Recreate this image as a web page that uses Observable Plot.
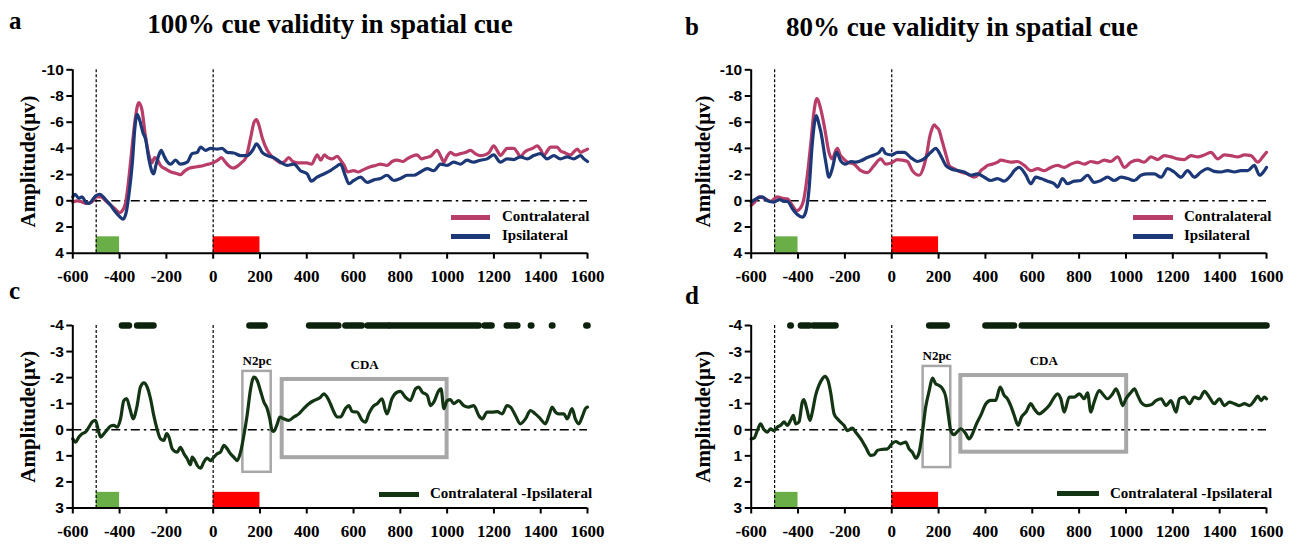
<!DOCTYPE html>
<html><head><meta charset="utf-8">
<script src="https://cdn.jsdelivr.net/npm/d3@7"></script>
<script src="https://cdn.jsdelivr.net/npm/@observablehq/plot@0.6"></script>
<style>
html,body{margin:0;padding:0;background:#fff;}
#root{position:relative;width:1294px;height:548px;overflow:hidden;background:#fff;}
.abs{position:absolute;}
.title{font:bold 27px "Liberation Serif","Times New Roman",serif;text-align:center;white-space:nowrap;line-height:30px;color:#000;}
.letter{font:bold 25px "Liberation Serif","Times New Roman",serif;line-height:28px;color:#000;}
.leg{font:bold 15px "Liberation Serif","Times New Roman",serif;line-height:18px;white-space:nowrap;color:#000;}
.sw{height:5px;}
.p g[aria-label="y-axis tick label"]{font:bold 15.5px "Liberation Sans",Arial,sans-serif;}
.p g[aria-label="x-axis tick label"]{font:bold 17px "Liberation Serif","Times New Roman",serif;}
</style></head><body><div id="root"></div><script>
// ---------- data ----------
const xDomain = [-600, 1600];
const xTicks = [-600,-400,-200,0,200,400,600,800,1000,1200,1400,1600];
const yDomainTop = [4, -10];
const yTicksTop = [-10,-8,-6,-4,-2,0,2,4];
const yDomainBottom = [3, -4];
const yTicksBottom = [-4,-3,-2,-1,0,1,2,3];
const eventTimes = [-500, 0];
const cueWindow = [-500, -400];
const targetWindow = [0, 200];
const stimBarTop = [2.75, 4];
const stimBarBottom = [2.4, 3];
const sigLevel = -4;
const yLabel = "Amplitude(μv)";
const titles = ["100% cue validity in spatial cue", "80% cue validity in spatial cue"];
const seriesNames = ["Contralateral", "Ipsilateral", "Contralateral -Ipsilateral"];

// panel a (100%) contralateral / ipsilateral
const aContra = [[-600,0.1],[-580,0.0],[-560,0.1],[-540,0.2],[-520,0.1],[-500,-0.3],[-480,-0.3],[-460,0.0],[-440,0.3],[-420,0.6],[-400,0.9],[-390,0.8],[-375,0.2],[-365,-1.0],[-350,-3.5],[-335,-6.0],[-318,-7.5],[-305,-7.0],[-290,-5.0],[-275,-3.5],[-262,-2.9],[-250,-3.3],[-240,-3.2],[-225,-2.7],[-200,-2.4],[-180,-2.2],[-160,-2.1],[-140,-2.0],[-120,-2.3],[-100,-2.5],[-70,-2.6],[-40,-2.7],[-20,-2.8],[0,-2.9],[20,-3.1],[35,-3.3],[50,-3.0],[65,-2.7],[85,-2.5],[100,-2.6],[120,-2.9],[140,-3.3],[160,-4.8],[175,-6.0],[185,-6.2],[195,-5.8],[210,-4.8],[230,-3.9],[250,-3.4],[270,-3.1],[290,-2.9],[305,-3.0],[323,-3.3],[340,-3.0],[360,-2.9],[380,-2.9],[400,-2.9],[420,-2.8],[445,-3.5],[460,-3.1],[475,-3.5],[490,-3.3],[510,-3.2],[530,-3.4],[545,-3.1],[560,-2.7],[575,-2.2],[600,-2.3],[620,-2.2],[645,-2.4],[672,-2.6],[695,-2.7],[715,-2.8],[743,-2.7],[765,-3.0],[786,-3.1],[810,-3.0],[829,-3.2],[850,-3.4],[872,-3.5],[890,-3.2],[910,-3.3],[929,-3.4],[957,-3.85],[975,-3.3],[986,-2.95],[1000,-3.4],[1014,-3.7],[1035,-3.5],[1057,-3.6],[1080,-3.7],[1100,-3.85],[1120,-3.6],[1142,-3.45],[1160,-3.5],[1180,-3.7],[1199,-4.2],[1215,-3.8],[1228,-3.45],[1245,-3.8],[1256,-4.0],[1285,-4.0],[1300,-3.7],[1313,-3.35],[1330,-3.7],[1342,-3.85],[1365,-4.0],[1385,-4.2],[1400,-3.9],[1413,-3.45],[1428,-3.8],[1442,-4.1],[1470,-4.1],[1485,-3.8],[1499,-3.7],[1527,-3.5],[1545,-3.8],[1556,-3.95],[1570,-3.7],[1583,-3.8],[1600,-3.95]];
const aIpsi = [[-600,-0.3],[-590,-0.5],[-575,-0.2],[-560,-0.3],[-545,0.1],[-530,0.2],[-515,-0.1],[-500,-0.4],[-485,-0.5],[-470,-0.3],[-455,0.0],[-440,0.3],[-420,0.8],[-400,1.2],[-385,1.4],[-372,0.9],[-360,-0.5],[-345,-3.0],[-335,-5.5],[-325,-6.6],[-315,-6.2],[-300,-5.2],[-289,-4.7],[-275,-3.2],[-261,-2.2],[-254,-2.05],[-245,-2.7],[-232,-3.5],[-222,-3.85],[-212,-3.5],[-204,-3.2],[-182,-2.8],[-161,-3.1],[-140,-2.8],[-111,-2.95],[-90,-3.6],[-68,-3.7],[-54,-4.1],[-33,-3.85],[-11,-4.0],[17,-3.95],[38,-4.0],[60,-3.7],[88,-3.65],[117,-3.45],[145,-3.45],[170,-3.9],[185,-4.35],[200,-4.0],[209,-3.7],[231,-3.45],[259,-3.3],[288,-2.95],[316,-2.7],[345,-2.8],[373,-2.3],[402,-2.05],[419,-1.5],[444,-1.8],[473,-2.05],[501,-2.3],[525,-2.6],[544,-2.8],[565,-1.9],[580,-1.3],[601,-1.55],[630,-1.8],[658,-1.4],[687,-1.6],[715,-1.7],[743,-1.95],[772,-1.55],[800,-1.7],[829,-1.95],[857,-1.95],[886,-2.2],[915,-2.45],[943,-2.3],[972,-2.8],[1000,-2.7],[1028,-2.95],[1057,-2.8],[1085,-3.1],[1113,-2.95],[1142,-3.1],[1171,-3.2],[1199,-3.5],[1228,-2.95],[1256,-3.2],[1285,-3.15],[1313,-3.35],[1342,-3.2],[1370,-3.45],[1399,-3.6],[1427,-3.2],[1456,-3.45],[1484,-3.2],[1513,-3.35],[1541,-3.2],[1570,-3.45],[1585,-3.2],[1600,-3.0]];

// panel b (80%) contralateral / ipsilateral
const bContra = [[-600,0.35],[-585,0.1],[-567,-0.3],[-545,-0.2],[-517,0.05],[-489,-0.3],[-470,-0.2],[-446,-0.15],[-424,0.35],[-406,0.75],[-392,0.6],[-375,-0.15],[-360,-2.0],[-345,-4.5],[-332,-6.8],[-320,-7.8],[-303,-7.0],[-286,-5.5],[-268,-3.7],[-254,-3.2],[-240,-3.8],[-232,-4.0],[-220,-3.5],[-211,-3.3],[-189,-2.95],[-161,-2.8],[-132,-2.3],[-104,-2.15],[-75,-2.7],[-47,-3.2],[-26,-2.8],[0,-2.9],[24,-3.15],[45,-3.1],[67,-3.0],[88,-2.3],[117,-1.95],[138,-2.7],[150,-3.6],[160,-4.7],[170,-5.4],[181,-5.8],[192,-5.6],[202,-5.4],[213,-4.7],[224,-4.0],[235,-3.3],[245,-2.7],[266,-2.45],[295,-2.2],[323,-2.05],[352,-1.8],[370,-2.0],[380,-2.3],[395,-2.5],[409,-2.7],[430,-2.8],[452,-2.95],[466,-3.1],[494,-3.0],[508,-2.95],[536,-3.0],[566,-2.7],[594,-2.3],[623,-2.45],[651,-2.3],[679,-2.55],[708,-2.7],[736,-2.55],[765,-2.8],[793,-2.95],[822,-2.8],[850,-3.0],[879,-2.9],[907,-3.1],[936,-3.0],[964,-3.35],[993,-2.55],[1021,-2.95],[1050,-3.1],[1078,-2.95],[1107,-3.35],[1135,-3.15],[1164,-3.45],[1192,-3.35],[1221,-3.2],[1249,-3.15],[1278,-3.45],[1306,-3.35],[1334,-3.5],[1363,-3.7],[1392,-3.2],[1420,-3.5],[1448,-3.45],[1477,-3.35],[1506,-3.5],[1534,-3.45],[1563,-2.95],[1584,-3.35],[1600,-3.7]];
const bIpsi = [[-600,0.1],[-574,-0.2],[-552,-0.3],[-531,0.0],[-503,0.1],[-480,-0.1],[-460,0.05],[-446,0.05],[-424,0.6],[-403,1.05],[-382,1.25],[-368,0.9],[-353,-0.9],[-339,-4.4],[-322,-6.5],[-310,-5.8],[-303,-5.3],[-282,-3.0],[-268,-1.8],[-254,-2.45],[-235,-3.7],[-218,-3.05],[-197,-2.8],[-175,-3.0],[-154,-2.95],[-132,-3.05],[-104,-3.3],[-75,-3.5],[-54,-3.7],[-40,-4.0],[-26,-3.6],[0,-3.5],[24,-3.7],[53,-3.7],[81,-3.3],[110,-3.0],[138,-3.2],[167,-3.7],[188,-4.0],[209,-3.45],[231,-2.7],[252,-2.45],[281,-2.3],[309,-2.2],[338,-1.95],[366,-2.05],[395,-1.8],[423,-1.55],[452,-1.7],[480,-1.5],[509,-1.95],[523,-2.3],[544,-2.55],[573,-1.95],[594,-1.3],[615,-1.8],[637,-1.7],[665,-1.5],[694,-1.3],[708,-1.05],[729,-1.7],[750,-1.3],[779,-1.5],[807,-1.55],[836,-1.95],[864,-1.4],[893,-1.55],[921,-1.8],[950,-1.55],[979,-1.8],[1007,-1.7],[1036,-1.55],[1064,-1.95],[1093,-2.05],[1121,-2.05],[1150,-1.8],[1178,-2.45],[1206,-2.2],[1235,-1.8],[1263,-2.3],[1292,-1.8],[1320,-2.2],[1349,-2.45],[1377,-2.25],[1406,-2.2],[1434,-2.3],[1463,-2.2],[1491,-2.3],[1520,-2.3],[1548,-2.7],[1570,-1.95],[1591,-2.3],[1600,-2.55]];

// panel c (100%) difference wave
const cDiff = [[-600,0.35],[-588,0.47],[-574,0.28],[-560,0.15],[-546,0.09],[-531,-0.1],[-517,-0.3],[-503,-0.36],[-489,0.09],[-481,0.28],[-467,0.15],[-453,0.0],[-439,-0.14],[-425,-0.17],[-410,-0.1],[-396,-0.42],[-382,-1.12],[-370,-1.2],[-356,-0.81],[-342,-0.42],[-325,-0.93],[-311,-1.64],[-296,-1.8],[-282,-1.64],[-268,-1.2],[-254,-0.55],[-239,0.0],[-225,0.35],[-211,0.41],[-199,0.15],[-189,0.28],[-175,0.73],[-154,0.86],[-140,0.67],[-125,0.92],[-111,1.11],[-97,1.34],[-90,1.05],[-75,1.24],[-68,1.37],[-54,1.47],[-40,1.24],[-26,1.09],[-11,1.18],[3,1.05],[17,0.92],[31,0.86],[46,0.6],[60,0.73],[74,0.92],[88,1.05],[103,1.18],[117,0.86],[131,0.22],[145,-0.55],[160,-1.57],[174,-2.02],[188,-1.89],[202,-1.5],[217,-1.06],[231,-0.81],[242,-0.42],[252,0.03],[259,0.06],[274,-0.23],[285,-0.49],[302,-0.42],[323,-0.36],[345,-0.49],[366,-0.61],[387,-0.81],[409,-1.0],[430,-1.12],[459,-1.25],[473,-1.38],[487,-1.25],[501,-1.0],[516,-0.68],[530,-0.49],[544,-0.49],[565,-0.81],[580,-0.93],[594,-0.7],[615,-0.68],[637,-0.36],[651,-0.29],[665,-0.61],[687,-0.93],[701,-1.0],[722,-1.19],[736,-0.74],[743,-0.61],[764,-1.19],[786,-1.44],[800,-1.47],[822,-1.25],[842,-1.12],[865,-1.57],[879,-1.64],[893,-1.45],[915,-1.32],[929,-0.93],[943,-1.06],[964,-1.5],[974,-1.57],[986,-0.81],[1000,-1.12],[1014,-1.16],[1028,-1.0],[1049,-1.12],[1071,-0.93],[1092,-0.87],[1114,-0.93],[1135,-0.55],[1150,-0.42],[1171,-0.68],[1192,-0.68],[1214,-0.7],[1235,-0.61],[1256,-0.93],[1271,-0.87],[1292,-0.55],[1313,-0.23],[1335,-0.42],[1356,-0.74],[1377,-0.61],[1399,-0.42],[1420,-0.23],[1435,-0.55],[1449,-0.87],[1463,-0.68],[1477,-0.61],[1499,-0.61],[1513,-0.42],[1534,-0.81],[1548,-0.42],[1563,-0.23],[1577,-0.49],[1591,-0.81],[1600,-0.87]];
// panel d (80%) difference wave
const dDiff = [[-600,0.35],[-588,0.32],[-574,0.03],[-560,-0.23],[-546,-0.01],[-531,0.09],[-517,-0.04],[-503,0.03],[-489,-0.1],[-474,-0.17],[-460,-0.3],[-446,-0.17],[-432,-0.36],[-420,-0.55],[-410,-0.23],[-396,-0.3],[-382,-1.06],[-375,-1.16],[-363,-0.81],[-349,-0.36],[-339,-0.68],[-325,-1.32],[-311,-1.7],[-296,-1.96],[-286,-2.05],[-272,-1.89],[-261,-1.44],[-246,-0.61],[-232,-0.42],[-218,-0.29],[-204,-0.17],[-189,0.03],[-168,-0.06],[-154,0.09],[-132,0.35],[-111,0.67],[-90,0.98],[-75,0.96],[-61,0.79],[-40,0.75],[-18,0.73],[0,0.54],[17,0.45],[38,0.54],[60,0.47],[74,0.73],[88,0.86],[103,1.09],[117,0.86],[131,0.09],[145,-0.87],[160,-1.5],[174,-1.98],[188,-1.76],[202,-1.7],[217,-1.57],[231,-1.25],[242,-0.55],[252,0.03],[266,0.19],[281,0.06],[295,-0.04],[316,0.15],[330,0.35],[345,0.15],[359,-0.17],[380,-0.55],[402,-1.0],[423,-1.13],[444,-1.13],[463,-1.64],[480,-1.32],[494,-1.19],[508,-0.93],[523,-0.55],[540,-0.17],[554,-0.49],[573,-0.68],[594,-1.0],[608,-0.81],[630,-0.61],[651,-0.74],[672,-0.93],[694,-1.25],[708,-1.38],[722,-1.19],[736,-0.68],[758,-1.25],[779,-1.25],[801,-1.38],[822,-1.19],[836,-1.42],[850,-0.68],[864,-1.06],[886,-1.5],[900,-1.38],[921,-1.19],[943,-1.38],[957,-1.57],[971,-1.32],[986,-0.93],[1000,-1.19],[1022,-1.44],[1036,-1.57],[1050,-1.32],[1064,-1.06],[1085,-0.93],[1107,-0.96],[1128,-1.12],[1150,-1.19],[1171,-0.93],[1192,-1.12],[1214,-0.68],[1228,-1.19],[1249,-1.25],[1271,-1.0],[1292,-1.25],[1313,-1.19],[1335,-1.47],[1356,-1.25],[1377,-1.0],[1399,-1.19],[1420,-0.93],[1442,-1.06],[1463,-1.0],[1484,-0.93],[1506,-1.0],[1527,-0.93],[1548,-1.12],[1563,-1.29],[1577,-1.12],[1591,-1.25],[1600,-1.19]];

// significant time windows (ms) marked at the top of c / d
const sigC = [[-390,-360],[-325,-255],[155,220],[410,535],[565,600],[610,635],[660,748],[755,1135],[1160,1190],[1255,1300],[1358,1360],[1448,1450],[1595,1600]];
const sigD = [[-433,-431],[-388,-352],[-335,-240],[160,235],[400,522],[555,1600]];

// component windows (ms, μV)
const n2pcC = {name:"N2pc", x:[127,248], y:[-2.24,1.63]};
const cdaC  = {name:"CDA",  x:[295,1000], y:[-1.93,1.07]};
const n2pcD = {name:"N2pc", x:[134,252], y:[-2.43,1.45]};
const cdaD  = {name:"CDA",  x:[295,1003], y:[-2.08,0.86]};

// ---------- styles ----------
const colContra = "#b93d69", colIpsi = "#1c3877", colDiff = "#143514";
const serif = "Liberation Serif, Times New Roman, serif";
const sans = "Liberation Sans, Arial, sans-serif";

function panel(o) {
  const marks = [
    Plot.rect([cueWindow], {x1: d => d[0], x2: d => d[1], y1: o.bar[0], y2: o.bar[1], fill: "#6aae47"}),
    Plot.rect([targetWindow], {x1: d => d[0], x2: d => d[1], y1: o.bar[0], y2: o.bar[1], fill: "#ff0000"}),
    Plot.ruleY([0], {stroke: "#000", strokeWidth: 1.6, strokeDasharray: "9,4,2.5,4"}),
    Plot.ruleX(eventTimes, {stroke: "#000", strokeWidth: 1.2, strokeDasharray: "3,2"})
  ];
  for (const b of (o.boxes || [])) {
    marks.push(Plot.rect([b], {x1: d => d.x[0], x2: d => d.x[1], y1: d => d.y[0], y2: d => d.y[1], fill: "none", stroke: "#a7a7a7", strokeWidth: b.name === "CDA" ? 4 : 2.5}));
    marks.push(Plot.text([b], {x: d => (d.x[0] + d.x[1]) / 2, y: d => d.y[0], text: d => d.name, dy: b.name === "CDA" ? -15 : -11, fontSize: 13, fontWeight: "bold", fontFamily: serif, fill: "#000"}));
  }
  if (o.sig) marks.push(Plot.link(o.sig, {x1: d => d[0], x2: d => d[1], y1: sigLevel, y2: sigLevel, stroke: "#0c220c", strokeWidth: 6.5, strokeLinecap: "round"}));
  for (const s of o.series) {
    marks.push(Plot.line(s.data, {x: d => d[0], y: d => d[1], stroke: s.color, strokeWidth: 3.2, curve: "monotone-x", strokeLinejoin: "round"}));
  }
  marks.push(Plot.ruleX([xDomain[0]], {stroke: "#000", strokeWidth: 2}));
  marks.push(Plot.ruleY([o.yDomain[0]], {stroke: "#000", strokeWidth: 2}));
  marks.push(Plot.axisX({ticks: xTicks, tickFormat: d => String(d), tickSize: 6, tickPadding: 11, strokeWidth: 2, label: null, fontSize: 17, fontWeight: "bold", fontFamily: serif}));
  marks.push(Plot.axisY({ticks: o.yTicks, tickFormat: d => String(d), tickSize: 6, tickPadding: 3, strokeWidth: 2, label: null, fontSize: 15.5, fontWeight: "bold", fontFamily: sans}));
  marks.push(Plot.text([yLabel], {text: d => d, frameAnchor: "left", textAnchor: "middle", rotate: -90, dx: o.labelDx, fontSize: 21, fontWeight: "bold", fontFamily: serif, fill: "#000"}));
  return Plot.plot({
    width: o.width, height: o.height,
    marginLeft: o.ml, marginRight: o.mr, marginTop: o.mt, marginBottom: o.mb,
    className: "p",
    style: {background: "transparent", overflow: "visible"},
    x: {domain: xDomain},
    y: {domain: o.yDomain},
    marks
  });
}

const root = document.getElementById("root");
function place(el, left, top) { el.style.position = "absolute"; el.style.left = left + "px"; el.style.top = top + "px"; root.appendChild(el); return el; }
function div(cls, text, left, top, extra) { const d = document.createElement("div"); d.className = "abs " + cls; if (text) d.textContent = text; Object.assign(d.style, extra || {}); return place(d, left, top); }

const topCfg = {height: 250, mt: 19.3, mb: 47.3, yDomain: yDomainTop, yTicks: yTicksTop, bar: stimBarTop};
const botCfg = {height: 248, mt: 25, mb: 40.5, yDomain: yDomainBottom, yTicks: yTicksBottom, bar: stimBarBottom};
const leftCfg = {width: 640, ml: 72.3, mr: 53};
const rightCfg = {width: 614, ml: 70.7, mr: 28};

place(panel({...topCfg, ...leftCfg, labelDx: -45, series: [{data: aContra, color: colContra}, {data: aIpsi, color: colIpsi}]}), 0, 50);
place(panel({...topCfg, ...rightCfg, labelDx: -48, series: [{data: bContra, color: colContra}, {data: bIpsi, color: colIpsi}]}), 680, 50);
place(panel({...botCfg, ...leftCfg, labelDx: -45, series: [{data: cDiff, color: colDiff}], sig: sigC, boxes: [n2pcC, cdaC]}), 0, 300);
place(panel({...botCfg, ...rightCfg, labelDx: -48, series: [{data: dDiff, color: colDiff}], sig: sigD, boxes: [n2pcD, cdaD]}), 680, 300);

// titles and panel letters
div("title", titles[0], 30, 9, {width: "600px"});
div("title", titles[1], 662, 12, {width: "600px"});
div("letter", "a", 9, 7);
div("letter", "b", 685, 13);
div("letter", "c", 9, 277);
div("letter", "d", 685, 282);

// legends
function legend(items, swLeft, swWidth, textLeft, centers) {
  items.forEach((it, i) => {
    div("sw", "", swLeft, centers[i] - 2.5, {width: swWidth + "px", background: it.color});
    div("leg", it.name, textLeft, centers[i] - 10);
  });
}
legend([{name: seriesNames[0], color: colContra}, {name: seriesNames[1], color: colIpsi}], 451, 39, 502, [217.3, 236]);
legend([{name: seriesNames[0], color: colContra}, {name: seriesNames[1], color: colIpsi}], 1133, 40, 1184, [217.3, 236]);
legend([{name: seriesNames[2], color: colDiff}], 379, 40, 430, [494.3]);
legend([{name: seriesNames[2], color: colDiff}], 1057, 42, 1110, [493.7]);
</script></body></html>
